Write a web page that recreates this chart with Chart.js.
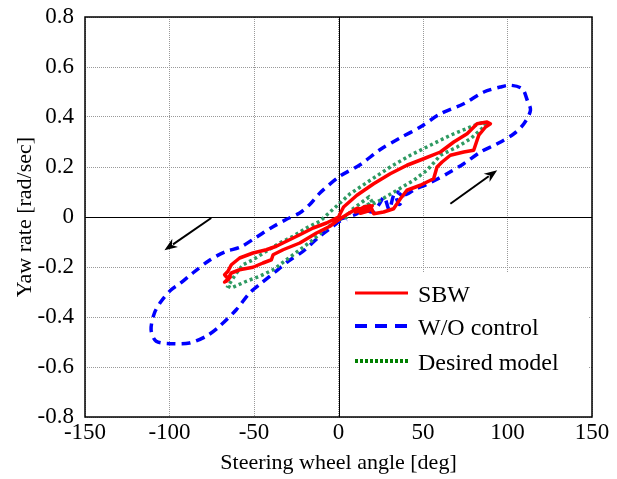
<!DOCTYPE html>
<html>
<head>
<meta charset="utf-8">
<script src="https://cdn.jsdelivr.net/npm/chart.js@4/dist/chart.umd.min.js"></script>
<style>
  html, body { margin: 0; padding: 0; background: #fff; }
  canvas { display: block; }
</style>
</head>
<body>
<canvas id="chart" width="617" height="479"></canvas>
<script>
// axis ticks
const xTickValues = [-150, -100, -50, 0, 50, 100, 150]
const yTickValues = [-0.8, -0.6, -0.4, -0.2, 0, 0.2, 0.4, 0.6, 0.8]

// SBW (red, solid)
const sbwAngle = [0, 3, 10.9, 20.8, 30.6, 40.5, 50.4, 60.3, 68.2, 76.1, 82, 87.9, 89.9, 87, 83, 80, 74.1, 66.2, 61.3, 58.3, 56.3, 48.4, 40.5, 36.6, 32.6, 26.7, 20.8,
    19, 15, 10, 16, 20, 13, 18, 11, 5, 0,
    -5.1, -13, -22.9, -32.8, -38.7, -39.7, -44.7, -50.6, -58.5, -63.4, -66.4, -64, -67.4, -65, -67.4, -65.4, -63.4, -58.5, -50.6, -42.7, -36.8, -30.8, -22.9, -15, -7.1, 0]
const sbwYaw = [0, 0.04, 0.087, 0.133, 0.173, 0.207, 0.233, 0.26, 0.3, 0.333, 0.373, 0.38, 0.373, 0.36, 0.327, 0.267, 0.26, 0.247, 0.22, 0.2, 0.153, 0.127, 0.107, 0.073, 0.033, 0.02, 0.013,
    0.045, 0.04, 0.02, 0.03, 0.045, 0.015, 0.025, 0.035, 0.01, -0.011,
    -0.037, -0.064, -0.104, -0.131, -0.151, -0.171, -0.184, -0.201, -0.211, -0.224, -0.257, -0.24, -0.26, -0.25, -0.231, -0.217, -0.191, -0.164, -0.144, -0.131, -0.117, -0.097, -0.071, -0.044, -0.024, 0]

// W/O control (blue, dashed)
const woAngle = [0, 5, 10, 15, 20, 24, 27, 30, 33, 36, 38, 35, 40, 45, 52, 58, 64.2, 74.1, 84, 93.9, 103.8, 109.7, 113.6, 111.7, 108.7, 101.8, 95.8, 86, 74.1, 60.3, 48.4, 36.4, 24.5, 13, 0.8, -11, -17, -23, -31, -40, -48.6, -58, -67.4, -76.3, -86.2, -94.1, -99, -104.9, -108.9, -110.9, -107.9, -98, -88.1, -78.3, -70.4, -60.5, -52.6, -45.6, -37.7, -29.8, -20.9, -11.1, -3.2, 0.8, 5]
const woYaw = [-0.01, 0, 0.01, 0.03, 0.02, 0.05, 0.08, 0.03, 0.09, 0.05, 0.08, 0.1, 0.09, 0.11, 0.13, 0.15, 0.173, 0.213, 0.26, 0.293, 0.333, 0.373, 0.427, 0.467, 0.513, 0.527, 0.52, 0.5, 0.453, 0.413, 0.36, 0.316, 0.269, 0.21, 0.163, 0.096, 0.05, 0.016, -0.01, -0.044, -0.081, -0.12, -0.14, -0.173, -0.224, -0.268, -0.291, -0.337, -0.384, -0.451, -0.497, -0.507, -0.504, -0.477, -0.437, -0.371, -0.304, -0.264, -0.221, -0.177, -0.137, -0.077, -0.037, -0.017, -0.01]

// Desired model (green, dotted)
const desAngle = [0, 4.9, 8, 14, 18, 20, 15, 19, 12, 14.8, 24.7, 34.6, 44.5, 52.4, 60.3, 70.2, 78.1, 87, 86, 78.1, 66.2, 54.3, 42.5, 30.6, 18.8, 6.9, -5, -11, -19, -26.9, -34.8, -42.7, -50.6, -56.5, -61, -65.4, -63.4, -54.5, -46.6, -38.7, -30.8, -22.9, -15, -7.1, 0]
const desYaw = [-0.011, 0, 0.03, 0.06, 0.08, 0.06, 0.04, 0.05, 0.03, 0.033, 0.067, 0.107, 0.147, 0.187, 0.247, 0.28, 0.313, 0.367, 0.38, 0.36, 0.327, 0.287, 0.247, 0.2, 0.147, 0.093, 0.02, -0.017, -0.044, -0.077, -0.104, -0.137, -0.171, -0.191, -0.23, -0.277, -0.284, -0.257, -0.237, -0.211, -0.171, -0.131, -0.091, -0.044, -0.011]

// arrows [x0, y0, x1, y1]
const arrowLeft = [-75.3, -0.004, -103, -0.133]
const arrowRight = [66.2, 0.053, 93.9, 0.187]

const legendNames = ['SBW', 'W/O control', 'Desired model']

const FONT = "'Liberation Serif', 'Times New Roman', serif"

function toPoints(xs, ys) {
    return xs.map((x, i) => ({ x: x, y: ys[i] }))
}

const zeroLines = {
    id: 'zeroLines',
    beforeDatasetsDraw(chart) {
        const { ctx, chartArea: a, scales: { x, y } } = chart
        ctx.save()
        ctx.strokeStyle = '#000'
        ctx.lineWidth = 1
        const px = Math.round(x.getPixelForValue(0)) + 0.5
        const py = Math.round(y.getPixelForValue(0)) + 0.5
        ctx.beginPath()
        ctx.moveTo(px, a.top); ctx.lineTo(px, a.bottom)
        ctx.moveTo(a.left, py); ctx.lineTo(a.right, py)
        ctx.stroke()
        ctx.restore()
    }
}

function drawArrow(ctx, x, y, arr) {
    const x0 = x.getPixelForValue(arr[0]), y0 = y.getPixelForValue(arr[1])
    const x1 = x.getPixelForValue(arr[2]), y1 = y.getPixelForValue(arr[3])
    const ang = Math.atan2(y1 - y0, x1 - x0)
    const len = 13, half = 5
    ctx.beginPath()
    ctx.moveTo(x0, y0)
    ctx.lineTo(x1 - Math.cos(ang) * len * 0.8, y1 - Math.sin(ang) * len * 0.8)
    ctx.stroke()
    ctx.beginPath()
    ctx.moveTo(x1, y1)
    ctx.lineTo(x1 - Math.cos(ang) * len - Math.sin(ang) * half, y1 - Math.sin(ang) * len + Math.cos(ang) * half)
    ctx.lineTo(x1 - Math.cos(ang) * len * 0.7, y1 - Math.sin(ang) * len * 0.7)
    ctx.lineTo(x1 - Math.cos(ang) * len + Math.sin(ang) * half, y1 - Math.sin(ang) * len - Math.cos(ang) * half)
    ctx.closePath()
    ctx.fill()
}

const extras = {
    id: 'extras',
    afterDatasetsDraw(chart) {
        const { ctx, chartArea: a, scales: { x, y } } = chart
        ctx.save()
        // legend box (white, covers grid)
        ctx.fillStyle = '#fff'
        ctx.fillRect(341, 272, a.right - 344, a.bottom - 273)
        const rows = [
            { y: 293, color: '#ff0000', dash: [], width: 3 },
            { y: 326, color: '#0000ff', dash: [12, 8], width: 4 },
            { y: 361, color: '#008000', dash: [3, 2], width: 4 }
        ]
        rows.forEach((r, i) => {
            ctx.strokeStyle = r.color
            ctx.lineWidth = r.width
            ctx.setLineDash(r.dash)
            ctx.beginPath()
            ctx.moveTo(355, r.y); ctx.lineTo(408, r.y)
            ctx.stroke()
            ctx.setLineDash([])
            ctx.fillStyle = '#000'
            ctx.font = '24px ' + FONT
            ctx.textBaseline = 'middle'
            ctx.fillText(legendNames[i], 418, r.y + 3)
        })
        // arrows
        ctx.strokeStyle = '#000'
        ctx.fillStyle = '#000'
        ctx.lineWidth = 2
        drawArrow(ctx, x, y, arrowLeft)
        drawArrow(ctx, x, y, arrowRight)
        // frame
        ctx.lineWidth = 1.5
        ctx.strokeRect(a.left, a.top, a.right - a.left, a.bottom - a.top)
        ctx.restore()
    }
}

const config = {
    type: 'scatter',
    data: {
        datasets: [{
            label: legendNames[0],
            data: toPoints(sbwAngle, sbwYaw),
            showLine: true,
            borderColor: '#ff0000',
            borderWidth: 3.5,
            borderJoinStyle: 'round',
            pointRadius: 0,
            order: 0
        }, {
            label: legendNames[1],
            data: toPoints(woAngle, woYaw),
            showLine: true,
            borderColor: '#0000ff',
            borderWidth: 3.5,
            borderDash: [9, 6],
            tension: 0.3,
            pointRadius: 0,
            order: 2
        }, {
            label: legendNames[2],
            data: toPoints(desAngle, desYaw),
            showLine: true,
            borderColor: '#2e9a62',
            borderWidth: 3.5,
            borderDash: [3, 3],
            pointRadius: 0,
            order: 1
        }]
    },
    options: {
        responsive: false,
        animation: false,
        layout: { padding: { top: 17, right: 25, left: 0, bottom: 0 } },
        plugins: { legend: { display: false }, tooltip: { enabled: false } },
        scales: {
            x: {
                type: 'linear',
                min: -150, max: 150,
                afterBuildTicks: s => { s.ticks = xTickValues.map(v => ({ value: v })) },
                afterFit: s => { s.height = 62; s.paddingLeft = 0; s.paddingRight = 0 },
                grid: { color: '#999', lineWidth: 1, drawTicks: false },
                border: { display: false, dash: [1, 1] },
                ticks: { color: '#000', padding: 2, font: { family: FONT, size: 23 }, maxRotation: 0 },
                title: { display: true, text: 'Steering wheel angle [deg]', color: '#000', font: { family: FONT, size: 22 }, padding: { top: 0, bottom: 3 } }
            },
            y: {
                type: 'linear',
                min: -0.8, max: 0.8,
                afterBuildTicks: s => { s.ticks = yTickValues.map(v => ({ value: v })) },
                afterFit: s => { s.width = 85; s.paddingTop = 0; s.paddingBottom = 0 },
                grid: { color: '#999', lineWidth: 1, drawTicks: false },
                border: { display: false, dash: [1, 1] },
                ticks: { color: '#000', padding: 11, font: { family: FONT, size: 23 }, callback: v => String(Math.round(v * 10) / 10) },
                title: { display: true, text: 'Yaw rate [rad/sec]', color: '#000', font: { family: FONT, size: 22 }, padding: { top: 12, bottom: 0 } }
            }
        }
    },
    plugins: [zeroLines, extras]
}

new Chart(document.getElementById('chart'), config)
</script>
</body>
</html>
